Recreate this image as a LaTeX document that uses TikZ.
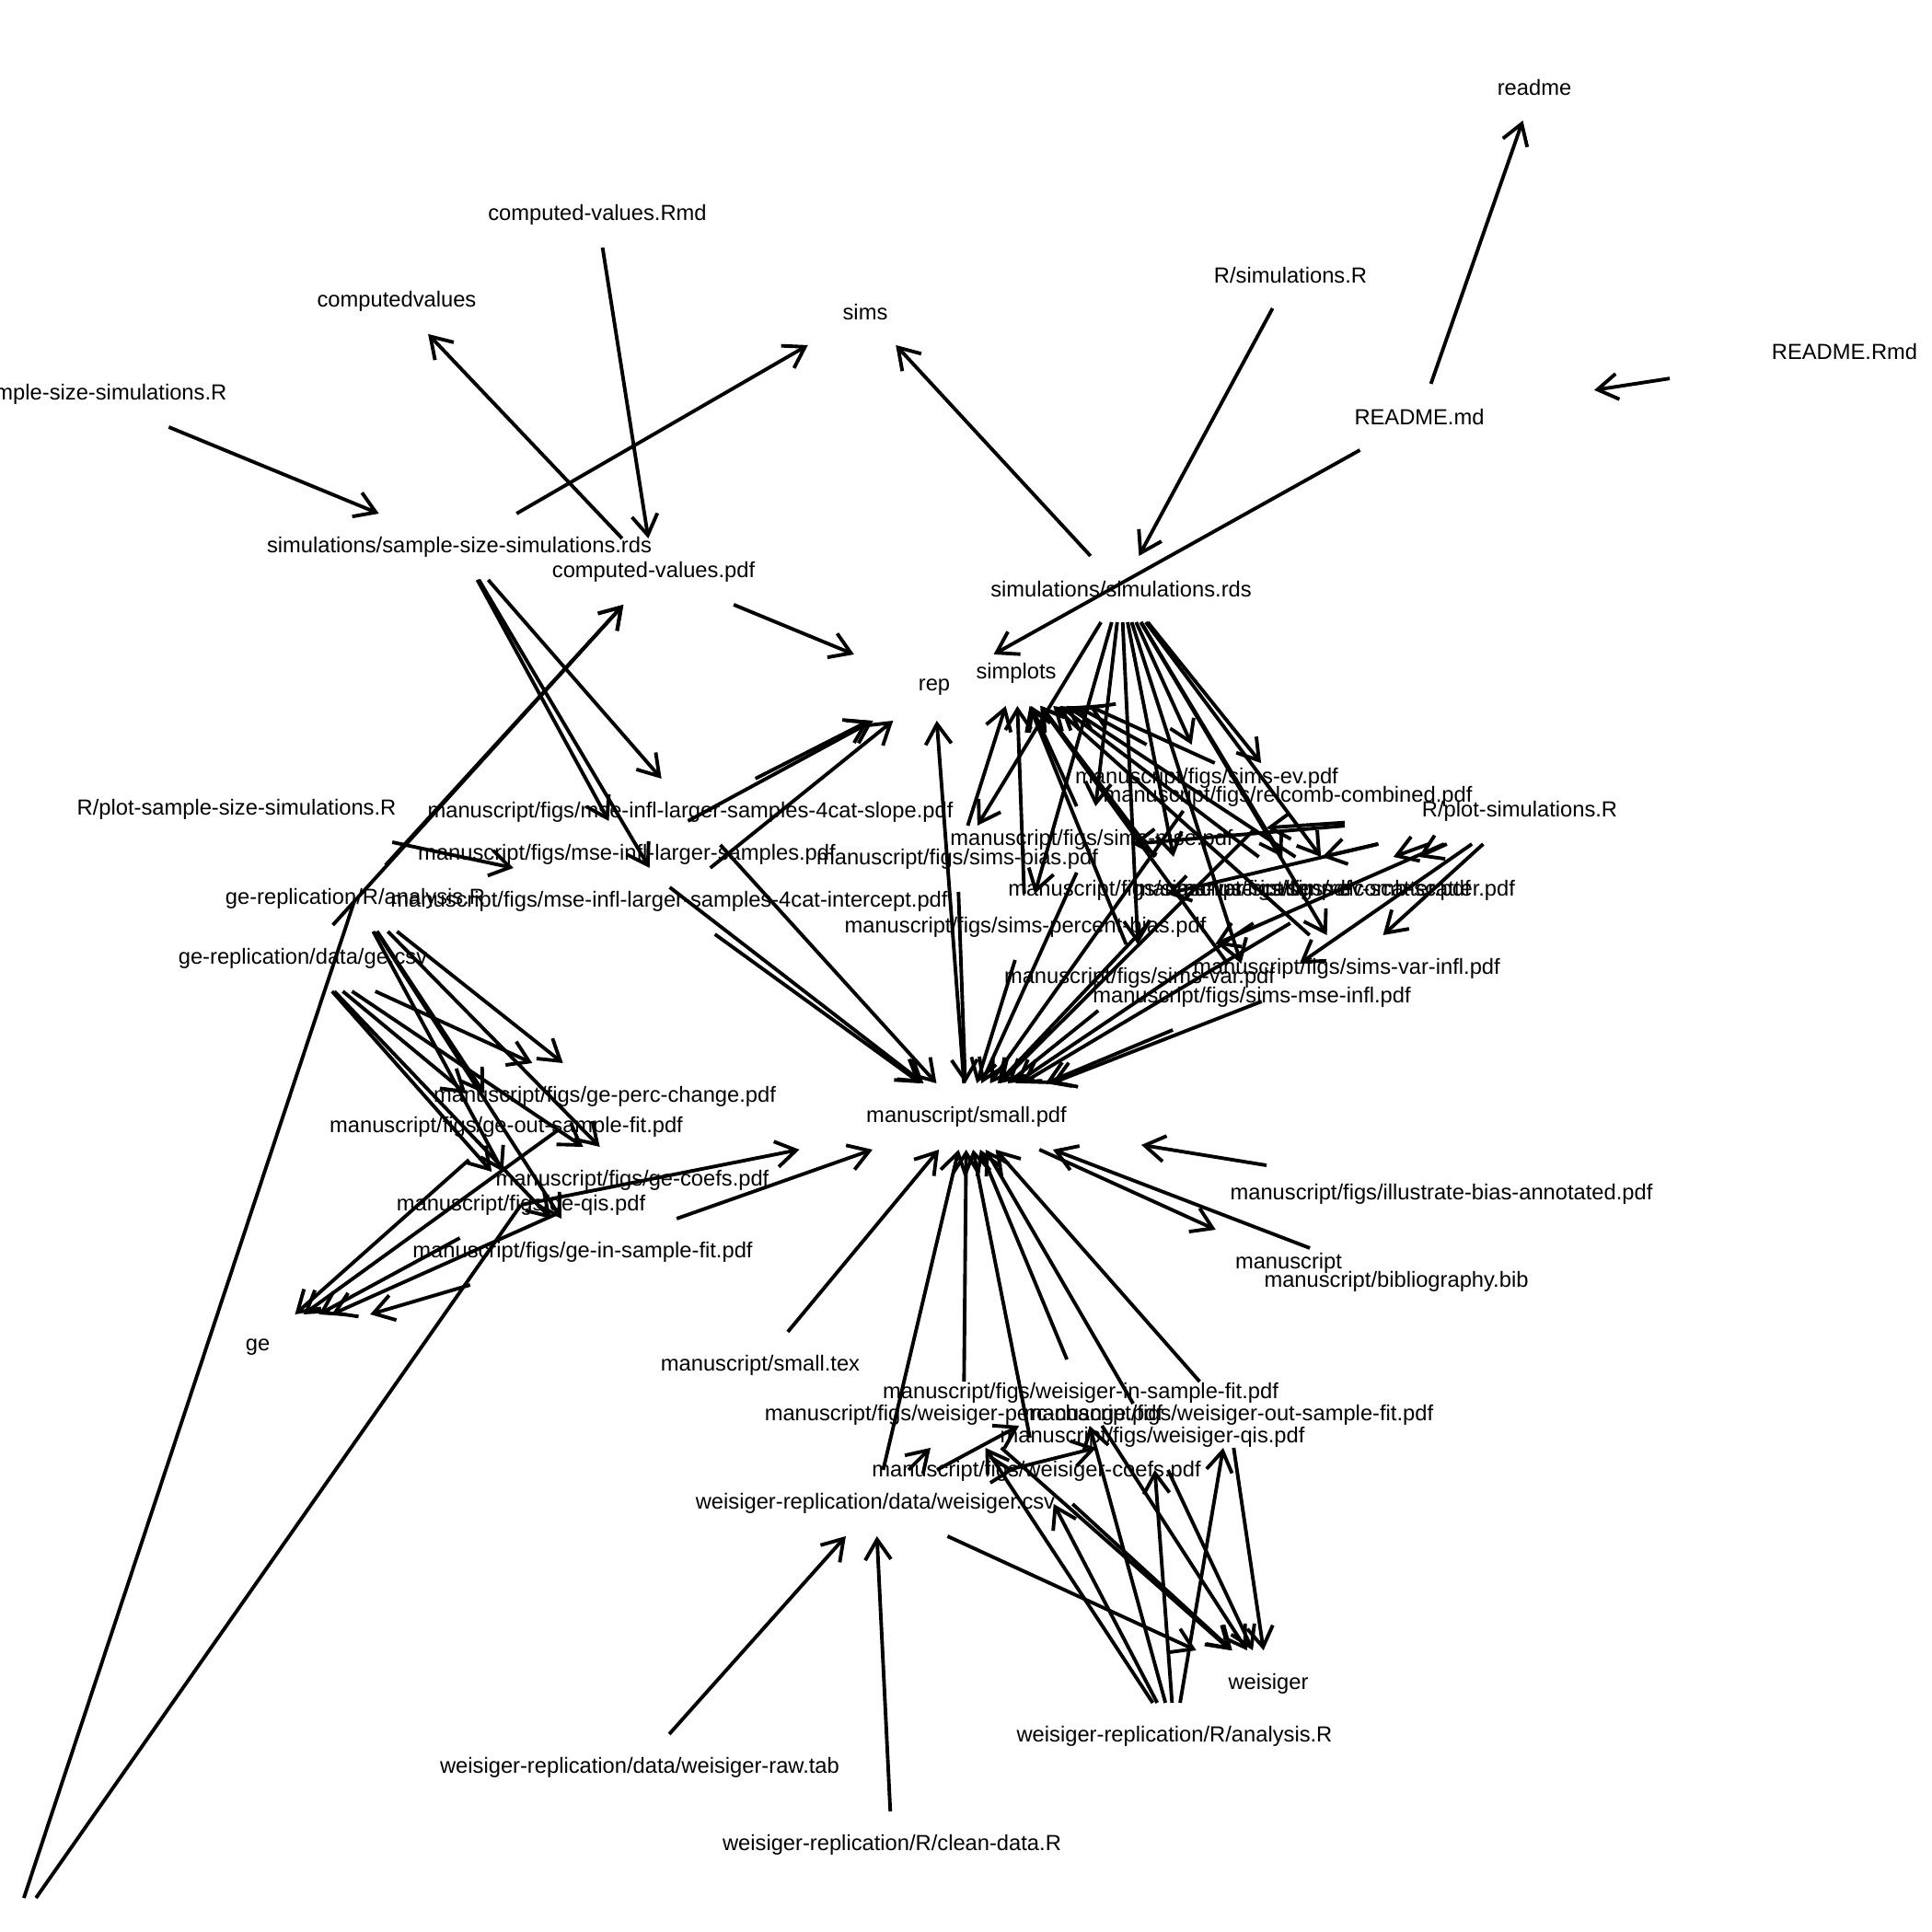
\documentclass[tikz,border=0pt]{standalone}
\usepackage{fontspec}
\setmainfont{Liberation Sans}
\usetikzlibrary{arrows.meta}
\tikzstyle{vx} = [rectangle, draw=none, minimum width=3.8cm, minimum height=0.72cm, inner sep=0pt, outer sep=0pt]
\tikzstyle{lbl} = [font=\fontsize{6.75pt}{8pt}\selectfont, inner sep=0pt, text=black]
\tikzstyle{dep} = [line width=1.1pt, -{Straight Barb[length=2.2mm,width=2.8mm]}]
\tikzstyle{wire} = [line width=1.1pt]
\begin{document}
\begin{tikzpicture}
    \useasboundingbox (0,0) rectangle (20.99,20.99);
    \fill [white] (0,0) rectangle (20.99,20.99);
    \node [vx, label={[lbl]center:readme}] (readme) at (16.67,20.04) {};
    \node [vx, label={[lbl]center:computed-values.Rmd}] (cvrmd) at (6.49,18.66) {};
    \node [vx, label={[lbl]center:computedvalues}] (computedvalues) at (4.31,17.72) {};
    \node [vx, label={[lbl]center:sims}] (sims) at (9.40,17.60) {};
    \node [vx, label={[lbl]center:R/simulations.R}] (simr) at (14.02,18.00) {};
    \node [vx, label={[lbl]center:README.Rmd}] (readmermd) at (20.04,17.17) {};
    \node [vx, label={[lbl]center:README.md}] (readmemd) at (15.42,16.46) {};
    \node [vx, label={[lbl]center:R/sample-size-simulations.R}] (ssr) at (0.96,16.71) {};
    \node [vx, label={[lbl]center:simulations/sample-size-simulations.rds}] (ssrds) at (4.99,15.05) {};
    \node [vx, label={[lbl]center:computed-values.pdf}] (cvpdf) at (7.10,14.78) {};
    \node [vx, label={[lbl]center:simulations/simulations.rds}] (simrds) at (12.18,14.59) {};
    \node [vx, label={[lbl]center:rep}] (rep) at (10.15,13.52) {};
    \node [vx, label={[lbl]center:simplots}] (simplots) at (11.04,13.68) {};
    \node [vx, label={[lbl]center:R/plot-sample-size-simulations.R}] (plotssr) at (2.57,12.20) {};
    \node [vx, label={[lbl]center:manuscript/figs/mse-infl-larger-samples-4cat-slope.pdf}] (slope) at (7.50,12.17) {};
    \node [vx, label={[lbl]center:manuscript/figs/mse-infl-larger-samples.pdf}] (larger) at (6.81,11.71) {};
    \node [vx, label={[lbl]center:ge-replication/R/analysis.R}] (geanalysis) at (3.86,11.23) {};
    \node [vx, label={[lbl]center:manuscript/figs/mse-infl-larger-samples-4cat-intercept.pdf}] (intercept) at (7.27,11.20) {};
    \node [vx, label={[lbl]center:ge-replication/data/ge.csv}] (gecsv) at (3.29,10.58) {};
    \node [vx, label={[lbl]center:manuscript/figs/sims-ev.pdf}] (simsev) at (13.11,12.54) {};
    \node [vx, label={[lbl]center:manuscript/figs/relcomb-combined.pdf}] (relcomb) at (13.99,12.34) {};
    \node [vx, label={[lbl]center:R/plot-simulations.R}] (plotsimr) at (16.51,12.18) {};
    \node [vx, label={[lbl]center:manuscript/figs/sims-mse.pdf}] (simsmse) at (11.86,11.87) {};
    \node [vx, label={[lbl]center:manuscript/figs/sims-bias.pdf}] (simsbias) at (10.40,11.66) {};
    \node [vx, label={[lbl]center:manuscript/figs/sims-var-scatter.pdf}] (varscatter) at (12.82,11.32) {};
    \node [vx, label={[lbl]center:manuscript/figs/sims-ev-scatter.pdf}] (evscatter) at (14.15,11.32) {};
    \node [vx, label={[lbl]center:manuscript/figs/relcomb-scatter.pdf}] (relscatter) at (14.62,11.32) {};
    \node [vx, label={[lbl]center:manuscript/figs/sims-percent-bias.pdf}] (simspb) at (11.14,10.92) {};
    \node [vx, label={[lbl]center:manuscript/figs/sims-var.pdf}] (simsvar) at (12.38,10.37) {};
    \node [vx, label={[lbl]center:manuscript/figs/sims-var-infl.pdf}] (simsvarinfl) at (14.63,10.47) {};
    \node [vx, label={[lbl]center:manuscript/figs/sims-mse-infl.pdf}] (simsmseinfl) at (13.60,10.16) {};
    \node [vx, label={[lbl]center:manuscript/small.pdf}] (small) at (10.50,8.86) {};
    \node [vx, label={[lbl]center:manuscript/figs/ge-perc-change.pdf}] (geperc) at (6.57,9.08) {};
    \node [vx, label={[lbl]center:manuscript/figs/ge-out-sample-fit.pdf}] (geout) at (5.50,8.75) {};
    \node [vx, label={[lbl]center:manuscript/figs/ge-coefs.pdf}] (gecoefs) at (6.87,8.17) {};
    \node [vx, label={[lbl]center:manuscript/figs/ge-qis.pdf}] (geqis) at (5.66,7.90) {};
    \node [vx, label={[lbl]center:manuscript/figs/ge-in-sample-fit.pdf}] (gein) at (6.33,7.39) {};
    \node [vx, label={[lbl]center:manuscript/figs/illustrate-bias-annotated.pdf}] (illustrate) at (15.66,8.02) {};
    \node [vx, label={[lbl]center:manuscript}] (manuscript) at (14.00,7.27) {};
    \node [vx, label={[lbl]center:manuscript/bibliography.bib}] (bib) at (15.17,7.07) {};
    \node [vx, label={[lbl]center:ge}] (ge) at (2.80,6.35) {};
    \node [vx, label={[lbl]center:manuscript/small.tex}] (smalltex) at (8.26,6.16) {};
    \node [vx, label={[lbl]center:manuscript/figs/weisiger-in-sample-fit.pdf}] (win) at (11.74,5.86) {};
    \node [vx, label={[lbl]center:manuscript/figs/weisiger-perc-change.pdf}] (wperc) at (10.47,5.62) {};
    \node [vx, label={[lbl]center:manuscript/figs/weisiger-out-sample-fit.pdf}] (wout) at (13.35,5.62) {};
    \node [vx, label={[lbl]center:manuscript/figs/weisiger-qis.pdf}] (wqis) at (12.52,5.38) {};
    \node [vx, label={[lbl]center:manuscript/figs/weisiger-coefs.pdf}] (wcoefs) at (11.26,5.01) {};
    \node [vx, label={[lbl]center:weisiger-replication/data/weisiger.csv}] (wcsv) at (9.51,4.66) {};
    \node [vx, label={[lbl]center:weisiger}] (weisiger) at (13.78,2.70) {};
    \node [vx, label={[lbl]center:weisiger-replication/R/analysis.R}] (wanalysis) at (12.76,2.13) {};
    \node [vx, label={[lbl]center:weisiger-replication/data/weisiger-raw.tab}] (wraw) at (6.95,1.79) {};
    \node [vx, label={[lbl]center:weisiger-replication/R/clean-data.R}] (wclean) at (9.69,0.95) {};
    \node [vx] (offpage) at (0.14,0.01) {};
    \draw [dep] (readmermd) -- (readmemd);
    \draw [dep] (readmemd) -- (readme);
    \draw [dep] (readmemd) -- (rep);
    \draw [dep] (cvrmd) -- (cvpdf);
    \draw [dep] (cvpdf) -- (computedvalues);
    \draw [dep] (cvpdf) -- (rep);
    \draw [dep] (ssr) -- (ssrds);
    \draw [dep] (ssrds) -- (sims);
    \draw [dep] (simr) -- (simrds);
    \draw [dep] (simrds) -- (sims);
    \draw [dep] (ssrds) -- (slope);
    \draw [dep] (ssrds) -- (larger);
    \draw [dep] (ssrds) -- (intercept);
    \draw [dep] (plotssr) -- (intercept);
    \draw [dep] (slope) -- (rep);
    \draw [dep] (larger) -- (rep);
    \draw [dep] (intercept) -- (rep);
    \draw [dep] (slope) -- (small);
    \draw [dep] (larger) -- (small);
    \draw [dep] (intercept) -- (small);
    \draw [dep] (gecsv) -- (cvpdf);
    \draw [dep] (geanalysis) -- (cvpdf);
    \draw [dep] (gecsv) -- (geperc);
    \draw [dep] (gecsv) -- (geout);
    \draw [dep] (gecsv) -- (gecoefs);
    \draw [dep] (gecsv) -- (geqis);
    \draw [dep] (gecsv) -- (gein);
    \draw [dep] (geanalysis) -- (geperc);
    \draw [dep] (geanalysis) -- (geout);
    \draw [dep] (geanalysis) -- (gecoefs);
    \draw [dep] (geanalysis) -- (geqis);
    \draw [dep] (geanalysis) -- (gein);
    \draw [dep] (geperc) -- (ge);
    \draw [dep] (geout) -- (ge);
    \draw [dep] (gecoefs) -- (ge);
    \draw [dep] (geqis) -- (ge);
    \draw [dep] (gein) -- (ge);
    \draw [dep] (geqis.center) -- (small);
    \draw [dep] (gein) -- (small);
    \draw [wire] (offpage) -- (geanalysis.center);
    \draw [wire] (offpage) -- (geqis.center);
    \draw [dep] (simrds) -- (simsev);
    \draw [dep] (simrds) -- (relcomb);
    \draw [dep] (simrds) -- (simsmse);
    \draw [dep] (simrds) -- (simsbias);
    \draw [dep] (simrds) -- (varscatter);
    \draw [dep] (simrds) -- (evscatter);
    \draw [dep] (simrds) -- (relscatter);
    \draw [dep] (simrds) -- (simspb);
    \draw [dep] (simrds) -- (simsvar);
    \draw [dep] (simrds) -- (simsvarinfl);
    \draw [dep] (simrds) -- (simsmseinfl);
    \draw [dep] (plotsimr) -- (simsmse);
    \draw [dep] (plotsimr) -- (simsbias);
    \draw [dep] (plotsimr) -- (varscatter);
    \draw [dep] (plotsimr) -- (evscatter);
    \draw [dep] (plotsimr) -- (relscatter);
    \draw [dep] (plotsimr) -- (simspb);
    \draw [dep] (plotsimr) -- (simsvar);
    \draw [dep] (plotsimr) -- (simsvarinfl);
    \draw [dep] (plotsimr) -- (simsmseinfl);
    \draw [dep] (simsev) -- (simplots);
    \draw [dep] (relcomb) -- (simplots);
    \draw [dep] (simsmse) -- (simplots);
    \draw [dep] (simsbias) -- (simplots);
    \draw [dep] (varscatter) -- (simplots);
    \draw [dep] (evscatter) -- (simplots);
    \draw [dep] (relscatter) -- (simplots);
    \draw [dep] (simspb) -- (simplots);
    \draw [dep] (simsvar) -- (simplots);
    \draw [dep] (simsvarinfl) -- (simplots);
    \draw [dep] (simsmseinfl) -- (simplots);
    \draw [dep] (simsev) -- (small);
    \draw [dep] (relcomb) -- (small);
    \draw [dep] (simsmse) -- (small);
    \draw [dep] (simsbias) -- (small);
    \draw [dep] (varscatter) -- (small);
    \draw [dep] (evscatter) -- (small);
    \draw [dep] (relscatter) -- (small);
    \draw [dep] (simspb) -- (small);
    \draw [dep] (simsvar) -- (small);
    \draw [dep] (simsvarinfl) -- (small);
    \draw [dep] (simsmseinfl) -- (small);
    \draw [dep] (small) -- (rep);
    \draw [dep] (small) -- (manuscript);
    \draw [dep] (illustrate) -- (small);
    \draw [dep] (bib) -- (small);
    \draw [dep] (smalltex) -- (small);
    \draw [dep] (wraw) -- (wcsv);
    \draw [dep] (wclean) -- (wcsv);
    \draw [dep] (wcsv) -- (weisiger);
    \draw [dep] (wcsv) -- (small);
    \draw [dep] (wcsv) -- (wqis);
    \draw [dep] (wcsv) -- (wperc);
    \draw [dep] (wcsv) -- (wout);
    \draw [dep] (wcsv) -- (win);
    \draw [dep] (wanalysis) -- (wcoefs);
    \draw [dep] (wanalysis) -- (wqis);
    \draw [dep] (wanalysis) -- (wperc);
    \draw [dep] (wanalysis) -- (wout);
    \draw [dep] (wanalysis) -- (win);
    \draw [dep] (wcoefs) -- (weisiger);
    \draw [dep] (wqis) -- (weisiger);
    \draw [dep] (wperc) -- (weisiger);
    \draw [dep] (wout) -- (weisiger);
    \draw [dep] (win) -- (weisiger);
    \draw [dep] (wcoefs) -- (small);
    \draw [dep] (wqis) -- (small);
    \draw [dep] (wperc) -- (small);
    \draw [dep] (wout) -- (small);
    \draw [dep] (win) -- (small);
\end{tikzpicture}
\end{document}
